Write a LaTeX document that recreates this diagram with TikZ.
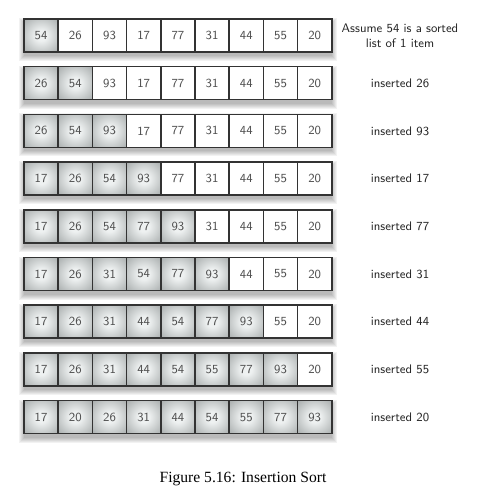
\documentclass[tikz,border=0pt]{standalone}
\usepackage{fontspec}
\newfontfamily\capfont{Liberation Serif}
\definecolor{cellline}{HTML}{333333}
\definecolor{celltext}{HTML}{505050}
\definecolor{cellin}{HTML}{EEF1F1}
\definecolor{cellout}{HTML}{A2A7A7}
\pgfdeclareradialshading{cellshade}{\pgfpoint{0bp}{0bp}}{color(0bp)=(cellin); color(8bp)=(cellin); color(38bp)=(cellout); color(50bp)=(cellout)}
\tikzset{
  cell/.style={draw=cellline, line width=1.1pt, minimum width=25.65pt, minimum height=24.75pt, inner sep=0pt, text=celltext, font=\sffamily\fontsize{9.3}{11}\selectfont},
  done/.style={cell, shading=cellshade},
  open/.style={cell, fill=white},
  note/.style={font=\sffamily\fontsize{9.3}{11.3}\selectfont, align=center, text=black!85}
}
\begin{document}
\begin{tikzpicture}[x=0.75pt, y=-0.75pt]
\useasboundingbox (0,0) rectangle (476,496);

\foreach \r/\s/\vals/\txt in {
  1/1/{54,26,93,17,77,31,44,55,20}/{Assume 54 is a sorted\\list of 1 item},
  2/2/{26,54,93,17,77,31,44,55,20}/{inserted 26},
  3/3/{26,54,93,17,77,31,44,55,20}/{inserted 93},
  4/4/{17,26,54,93,77,31,44,55,20}/{inserted 17},
  5/5/{17,26,54,77,93,31,44,55,20}/{inserted 77},
  6/6/{17,26,31,54,77,93,44,55,20}/{inserted 31},
  7/7/{17,26,31,44,54,77,93,55,20}/{inserted 44},
  8/8/{17,26,31,44,54,55,77,93,20}/{inserted 55},
  9/9/{17,20,26,31,44,54,55,77,93}/{inserted 20}}{
  \pgfmathsetmacro\yc{35.5+47.7*(\r-1)}
  % soft shadow under the row
  \foreach \k in {0,...,5}
    \fill[black, opacity=0.05] (24-\k, \yc-12.5-\k) rectangle (331.7+\k, \yc+20.5+\k);
  \foreach \v [count=\c] in \vals {
    \ifnum\c>\s \def\kind{open}\else \def\kind{done}\fi
    \node[\kind] (r\r c\c) at (24+34.2*\c-17.1, \yc) {\v};
  }
  \node[note] (l\r) at (400, \yc) {\txt};
}

\node[font=\capfont\fontsize{11.7}{14}\selectfont] (cap) at (243, 479) {Figure 5.16: Insertion Sort};
\end{tikzpicture}
\end{document}
